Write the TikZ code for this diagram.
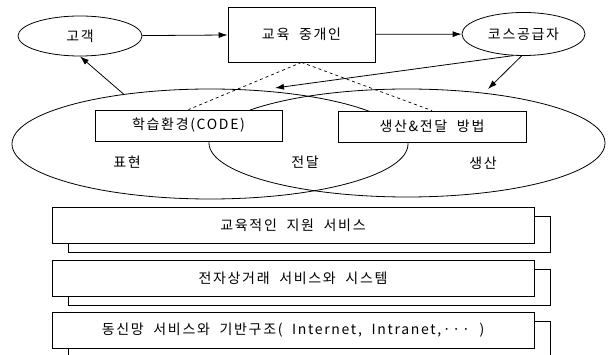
\documentclass[tikz,border=0pt]{standalone}
\usepackage{fontspec}
\setmainfont{Noto Sans CJK KR}[LetterSpace=12,WordSpace=2]
\usetikzlibrary{shapes.geometric,arrows.meta,shadows}

\tikzstyle{txt}=[font=\fontsize{14}{16}\selectfont,inner sep=0pt]
\tikzstyle{actor}=[draw,black,ellipse,line width=0.8pt,inner sep=0pt,txt]
\tikzstyle{venn}=[draw,black,ellipse,line width=0.8pt,inner sep=0pt]
\tikzstyle{box}=[draw,black,rectangle,line width=0.8pt,fill=white,txt]
\tikzstyle{layer}=[box,minimum width=482pt,minimum height=36pt,
    general shadow={shadow xshift=16pt,shadow yshift=-9pt,fill=white,draw=black,line width=0.8pt}]
\tikzstyle{edge}=[line width=0.8pt,-{Latex[length=9pt,width=6pt]}]
\tikzstyle{link}=[line width=0.7pt,dashed]

\begin{document}
\begin{tikzpicture}[x=1pt,y=-1pt]
    \useasboundingbox (0,0) rectangle (611,355);

    \node (left)[venn,minimum width=396pt,minimum height=110pt] at (210,144) {};
    \node (right)[venn,minimum width=396pt,minimum height=108pt] at (407,143) {};

    \node (cust)[actor,minimum width=124pt,minimum height=40pt] at (80,36) {고객};
    \node (broker)[box,minimum width=147pt,minimum height=55pt] at (301.5,34.5) {교육 중개인};
    \node (cp)[actor,minimum width=123pt,minimum height=43pt] at (523.5,34) {코스공급자};

    \coordinate (codein) at (275,88);
    \coordinate (prodin) at (488,89);

    \draw[edge] (cust) -- (broker);
    \draw[edge] (broker) -- (cp);
    \draw[edge] (cp.-115) -- (codein);
    \draw[edge] (cp.-95) -- (prodin);
    \draw[edge] (left.150) -- (cust.south);

    \node (code)[box,minimum width=187pt,minimum height=31pt] at (188.5,125.5) {학습환경(CODE)};
    \node (method)[box,minimum width=188pt,minimum height=31pt] at (432,126.5) {생산\&전달 방법};

    \draw[link] (broker.south) -- (code.north);
    \draw[link] (broker.south) -- (method.north);

    \node (expr)[txt] at (127,162) {표현};
    \node (deliv)[txt] at (305,162) {전달};
    \node (prod)[txt] at (483,163) {생산};

    \node (edu)[layer] at (293,225) {교육적인 지원 서비스};
    \node (ecom)[layer] at (293,278.5) {전자상거래 서비스와 시스템};
    \node (net)[layer] at (293,330) {동신망 서비스와 기반구조( Internet, Intranet,··· )};
\end{tikzpicture}
\end{document}
